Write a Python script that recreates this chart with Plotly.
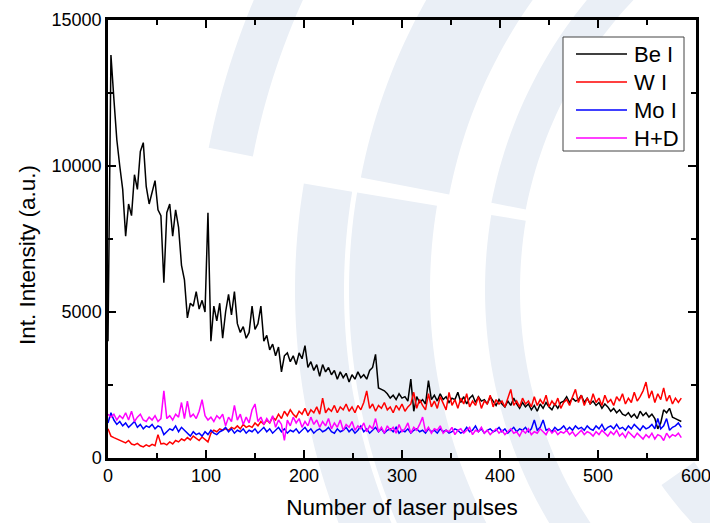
import numpy as np
import plotly.graph_objects as go

# ---------------- data ----------------
pulse_step = 3
pulses = list(range(0, 586, pulse_step))

be_i = [
    4000, 13800, 12300, 10900, 10000, 9200, 7600, 8700, 8300, 9700,
    9200, 10500, 10800, 9300, 8700, 9100, 9500, 8500, 8300, 6000,
    8400, 8700, 7600, 8500, 7900, 6600, 6100, 4800, 5300, 5200,
    5700, 5100, 5400, 5000, 8400, 4000, 5200, 4700, 5300, 4100,
    5000, 5600, 4900, 5700, 4600, 4300, 4500, 4100, 4300, 5200,
    4400, 4600, 5200, 4000, 4200, 3700, 3900, 3500, 3800, 2950,
    3500, 3600, 3300, 3500, 3200, 3600, 3400, 3850, 3100, 3300,
    3000, 3200, 2800, 3200, 2950, 3100, 2850, 3000, 2700, 2950,
    2750, 2900, 2600, 2850, 2700, 2950, 2750, 2850, 2700, 3000,
    3100, 3550, 2400, 2350, 2300, 2200, 2050, 2150, 2000, 2200,
    2050, 2100, 1950, 2700, 1600, 2100, 1900, 2000, 1850, 2650,
    2000, 2150, 1950, 2200, 2000, 2100, 1900, 2050, 2000, 2250,
    1900, 2100, 1850, 2050, 2150, 1900, 2100, 1950, 2000, 1850,
    2100, 1950, 1800, 2000, 1850, 1750, 1950, 1800, 2050, 1850,
    1700, 1900, 1750, 1850, 1650, 1800, 1600, 1850, 1700, 1900,
    1750, 1650, 1850, 1700, 1900, 1950, 2100, 1900, 2050, 1950,
    2000, 2150, 1900, 2050, 1850, 1950, 1800, 1900, 1700, 1850,
    1750, 1600, 1700, 1550, 1650, 1500, 1450, 1550, 1400, 1500,
    1350, 1600, 1450, 1550, 1400, 1500, 1350, 1000, 1200, 1650,
    1550, 1700, 1400, 1350, 1300, 1250,
]

w_i = [
    1000, 750, 700, 650, 600, 550, 520, 600, 480, 450,
    500, 420, 380, 450, 400, 470, 420, 800, 480, 500,
    450, 550, 480, 600, 550, 650, 600, 700, 620, 750,
    680, 600, 720, 650, 550, 850, 950, 900, 1000, 950,
    1000, 950, 1050, 1000, 1100, 1000, 1150, 1050, 1100, 1050,
    1200, 1100, 1250, 1150, 1300, 1200, 1400, 1300, 1500, 1350,
    1600, 1450, 1650, 1500, 1400, 1600, 1500, 1700, 1450, 1650,
    1550, 1750, 1500, 2050, 1550, 1700, 1600, 1800, 1550, 1750,
    1650, 1850, 1600, 1750, 1550, 1800, 1650, 1900, 2300, 1700,
    1850, 1600, 1800, 1700, 1900, 1650, 1750, 1550, 1800, 1650,
    1850, 1600, 1750, 1850, 2250, 1700, 2000, 1800, 1650, 2200,
    1750, 1950, 1700, 2100, 1850, 1650, 2250, 1800, 2000, 1700,
    2050, 1850, 2200, 1750, 1950, 1800, 2100, 1700, 1950, 1850,
    2150, 1750, 2000, 1850, 1950, 1750, 2050, 2350, 1800, 1950,
    1750, 2050, 1850, 1950, 1750, 2100, 1800, 2000, 1850, 2150,
    1750, 1950, 1800, 2050, 1700, 1900, 2000, 1800, 2100, 2350,
    1900, 2150, 1800, 2050, 1850, 2200, 1900, 2050, 1800, 2150,
    1900, 2000, 1800, 2100, 1950, 2200, 1850, 2050, 1900, 2250,
    1950, 2100, 2300, 2600, 2050, 2300, 1900, 2200, 2000, 2400,
    1950, 2150, 1850, 2050, 1900, 2050,
]

mo_i = [
    1200, 1550, 1300, 1150, 1250, 1100, 1200, 1050, 1150, 1250,
    1050, 1150, 1000, 1100, 1050, 1150, 1000, 1100, 1050, 800,
    900, 1000, 950, 1100, 900, 1050, 950, 850, 750, 900,
    800, 850, 750, 900, 800, 950, 850, 800, 900, 950,
    1050, 900, 1000, 850, 950, 900, 1000, 850, 950, 900,
    1000, 850, 950, 1050, 900, 1000, 850, 950, 1050, 900,
    1000, 850, 950, 900, 1000, 850, 950, 1050, 900, 1000,
    850, 950, 1000, 900, 950, 1050, 900, 850, 1000, 900,
    950, 1050, 900, 1000, 850, 950, 1100, 900, 1000, 850,
    950, 1050, 900, 1000, 850, 950, 1000, 900, 1050, 850,
    950, 900, 1000, 850, 950, 1000, 900, 950, 850, 1000,
    900, 950, 850, 1000, 900, 950, 850, 900, 1000, 950,
    850, 900, 1050, 900, 950, 1100, 900, 1000, 850, 950,
    1000, 900, 950, 1050, 900, 1000, 850, 950, 1050, 900,
    1000, 950, 1050, 900, 1000, 1300, 950, 1050, 1300, 950,
    1000, 900, 1050, 950, 1000, 1100, 950, 1050, 950, 1100,
    1000, 1050, 950, 1100, 1000, 950, 1100, 1000, 1150, 950,
    1050, 1100, 1000, 1150, 1000, 1050, 950, 1100, 1000, 1150,
    1050, 950, 1100, 1000, 1050, 1150, 1000, 1350, 1000, 1100,
    1350, 950, 1050, 1100, 1200, 1050,
]

h_d = [
    1500, 1400, 1500, 1300, 1450, 1350, 1550, 1300, 1600, 1250,
    1400, 1500, 1300, 1250, 1400, 1300, 1450, 1250, 1350, 2300,
    1350, 1450, 1300, 1500, 1400, 1900, 1350, 1950, 1400, 1500,
    1350, 1600, 2000, 1450, 1300, 1400, 1250, 1450, 1350, 1500,
    1100, 1400, 1250, 1800, 1300, 1500, 1150, 1400, 1200, 1650,
    1850, 1250, 1400, 1150, 1350, 1200, 1450, 1050, 1300, 1150,
    600, 1300, 1100, 1400, 1200, 1350, 1050, 1250, 1100, 1400,
    1150, 1300, 1050, 1250, 1100, 1350, 1000, 1200, 1050, 1300,
    950, 1150, 1050, 1250, 950, 1100, 1000, 1200, 900, 1100,
    1000, 1350, 900, 1050, 850, 1100, 950, 1050, 850, 1150,
    900, 1000, 1200, 850, 1050, 950, 1150, 1400, 900, 1050,
    850, 1000, 950, 1100, 850, 950, 900, 1050, 800, 950,
    1000, 850, 950, 1050, 800, 950, 900, 1050, 850, 950,
    800, 900, 1000, 850, 950, 800, 900, 1000, 850, 900,
    750, 950, 850, 1000, 800, 900, 850, 1000, 900, 800,
    1000, 850, 950, 800, 900, 850, 950, 800, 900, 750,
    850, 950, 800, 900, 850, 750, 900, 800, 950, 850,
    750, 900, 800, 950, 750, 850, 700, 900, 800, 700,
    850, 750, 650, 800, 700, 850, 650, 800, 750, 600,
    850, 700, 800, 750, 850, 700,
]

series_names = ["Be I", "W I", "Mo I", "H+D"]
series_values = [be_i, w_i, mo_i, h_d]
series_colors = ["#000000", "#ff0000", "#0000ff", "#ff00ff"]

x_title = "Number of laser pulses"
y_title = "Int. Intensity (a.u.)"

# ---------------- figure geometry ----------------
W, H = 710, 523
ML, MR, MT, MB = 108, 14, 20, 65
PW, PH = W - ML - MR, H - MT - MB
FONT = "Arial, Liberation Sans, sans-serif"


def to_paper(px, py):
    return (px - ML) / PW, (MT + PH - py) / PH


fig = go.Figure()
for name, vals, col in zip(series_names, series_values, series_colors):
    fig.add_trace(go.Scatter(x=pulses, y=vals, mode="lines", name=name,
                             line=dict(color=col, width=1.5),
                             showlegend=False))

shapes = []

# faint watermark (concentric arc segments in the page background)
wm_color = "#eaeff6"
wm_cx, wm_cy = 940, 290
wm_bands = [
    (700, 745, 191, 265),
    (500, 590, 191, 275),
    (422, 457, 191, 280),
    (596, 645, 100, 189.5),
    (510, 591, 100, 189.5),
    (420, 455, 95, 189.5),
    (300, 340, 90, 145),
]
for r1, r2, a1, a2 in wm_bands:
    t = np.radians(np.linspace(a1, a2, 80))
    pts = [(wm_cx + r2 * np.cos(a), wm_cy + r2 * np.sin(a)) for a in t]
    pts += [(wm_cx + r1 * np.cos(a), wm_cy + r1 * np.sin(a)) for a in t[::-1]]
    path = "M " + " L ".join("%.5f,%.5f" % to_paper(px, py) for px, py in pts) + " Z"
    shapes.append(dict(type="path", path=path, xref="paper", yref="paper",
                       fillcolor=wm_color, line=dict(width=0), layer="below"))

# legend box drawn by hand (long line samples like the original)
bx0, by0 = to_paper(563, 37)
bx1, by1 = to_paper(684, 151)
shapes.append(dict(type="rect", xref="paper", yref="paper", x0=bx0, y0=by1,
                   x1=bx1, y1=by0, line=dict(color="#444444", width=1),
                   fillcolor="white", layer="above"))
annotations = []
leg_rows = [54, 82, 110, 138]
for name, col, py in zip(series_names, series_colors, leg_rows):
    lx0, ly = to_paper(576, py)
    lx1, _ = to_paper(627, py)
    shapes.append(dict(type="line", xref="paper", yref="paper", x0=lx0, x1=lx1,
                       y0=ly, y1=ly, line=dict(color=col, width=1.4),
                       layer="above"))
    tx, _ = to_paper(632, py)
    annotations.append(dict(text=name, x=tx, y=ly, xref="paper", yref="paper",
                            xanchor="left", yanchor="middle", showarrow=False,
                            font=dict(family=FONT, size=22, color="black")))

# y-axis title (placed as in the original, slightly below the axis centre)
ytx, yty = to_paper(27, 255)
annotations.append(dict(text=y_title, x=ytx, y=yty, xref="paper", yref="paper",
                        xanchor="center", yanchor="middle", textangle=-90,
                        showarrow=False,
                        font=dict(family=FONT, size=22.5, color="black")))

axis_common = dict(
    showline=True, linecolor="black", linewidth=2.5, mirror="ticks",
    ticks="inside", ticklen=8, tickwidth=2, tickcolor="black",
    showgrid=False, zeroline=False, automargin=False, tickformat="d",
    ticklabeloverflow="allow",
    tickfont=dict(family=FONT, size=18, color="black"),
)

fig.update_layout(
    width=W, height=H, autosize=False,
    margin=dict(l=ML, r=MR, t=MT, b=MB, pad=0),
    paper_bgcolor="white", plot_bgcolor="rgba(0,0,0,0)",
    font=dict(family=FONT, color="black"),
    showlegend=False,
    xaxis=dict(range=[0, 600], tick0=0, dtick=100,
               minor=dict(dtick=50, ticks="inside", ticklen=5, tickwidth=2,
                          tickcolor="black", showgrid=False),
               title=dict(text=x_title, font=dict(family=FONT, size=22.5),
                          standoff=14),
               **axis_common),
    yaxis=dict(range=[0, 15000], tick0=0, dtick=5000,
               minor=dict(dtick=2500, ticks="inside", ticklen=5, tickwidth=2,
                          tickcolor="black", showgrid=False),
               **axis_common),
    shapes=shapes,
    annotations=annotations,
)

# remove the default page margin so the figure sits at the window's corner
fig.write_html("out.html",
               config={"displayModeBar": False},
               post_script="document.body.style.margin='0px';"
                           "document.body.style.overflow='hidden';")
